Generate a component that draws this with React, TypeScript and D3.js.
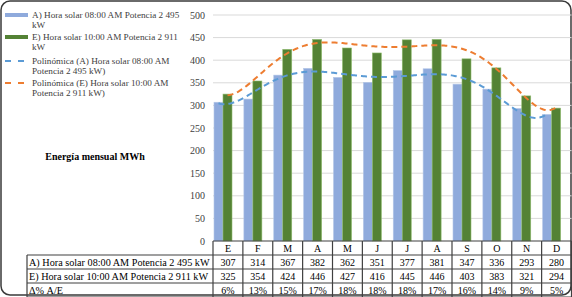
import React from 'react';
import * as d3 from 'd3';

const months = ['E', 'F', 'M', 'A', 'M', 'J', 'J', 'A', 'S', 'O', 'N', 'D'];
const seriesA = [307, 314, 367, 382, 362, 351, 377, 381, 347, 336, 293, 280];
const seriesE = [325, 354, 424, 446, 427, 416, 445, 446, 403, 383, 321, 294];
const deltas = ['6%', '13%', '15%', '17%', '18%', '18%', '18%', '17%', '16%', '14%', '9%', '5%'];
const yTicks = [0, 50, 100, 150, 200, 250, 300, 350, 400, 450, 500];
const labelA = 'A) Hora solar 08:00 AM Potencia 2 495 kW';
const labelE = 'E) Hora solar 10:00 AM Potencia 2 911 kW';
const labelDelta = 'Δ% A/E';
const axisTitle = 'Energía mensual MWh';

function polyfit(ys: number[], order: number) {
  const n = ys.length;
  const xs = ys.map((_, i) => (i + 1 - (n + 1) / 2) / ((n - 1) / 2));
  const m = order + 1;
  const A: number[][] = Array.from({ length: m }, () => new Array(m + 1).fill(0));
  for (let i = 0; i < n; i++) {
    for (let r = 0; r < m; r++) {
      for (let c = 0; c < m; c++) A[r][c] += Math.pow(xs[i], r + c);
      A[r][m] += Math.pow(xs[i], r) * ys[i];
    }
  }
  for (let col = 0; col < m; col++) {
    let piv = col;
    for (let r = col + 1; r < m; r++) if (Math.abs(A[r][col]) > Math.abs(A[piv][col])) piv = r;
    [A[col], A[piv]] = [A[piv], A[col]];
    for (let r = 0; r < m; r++) {
      if (r === col) continue;
      const f = A[r][col] / A[col][col];
      for (let c = col; c <= m; c++) A[r][c] -= f * A[col][c];
    }
  }
  const coef = A.map((row, i) => row[m] / row[i]);
  return (t: number) => {
    const x = (t - (n + 1) / 2) / ((n - 1) / 2);
    let s = 0;
    for (let k = 0; k < m; k++) s += coef[k] * Math.pow(x, k);
    return s;
  };
}

const W = 572, H = 297;
const plotL = 213, plotR = 571.5, plotT = 15, plotB = 241;
const rowH = 14;
const tableLeft = 27;
const font = "'Liberation Serif', 'Times New Roman', serif";
const ORDER = 6;

export default function App() {
  const x = d3.scaleBand<number>().domain(months.map((_, i) => i)).range([plotL, plotR]).padding(0);
  const y = d3.scaleLinear().domain([0, 500]).range([plotB, plotT]);
  const bw = x.bandwidth();
  const barW = 9;
  const offA = 1, offE = 10;

  const trend = (vals: number[], off: number, order: number) => {
    const f = polyfit(vals, order);
    const pts: [number, number][] = [];
    for (let t = 1; t <= 12.0001; t += 0.05) {
      pts.push([plotL + (t - 1) * bw + off + barW / 2, y(f(t))]);
    }
    return d3.line()(pts) || '';
  };

  const rowsY = [plotB, plotB + rowH, plotB + 2 * rowH, plotB + 3 * rowH, plotB + 4 * rowH];

  const legend = [
    { kind: 'bar', color: '#8FAADC', lines: ['A) Hora solar 08:00 AM Potencia 2 495', 'kW'] },
    { kind: 'bar', color: '#548235', lines: ['E) Hora solar 10:00 AM Potencia 2 911', 'kW'] },
    { kind: 'dash', color: '#5B9BD5', lines: ['Polinómica (A) Hora solar 08:00 AM', 'Potencia 2 495 kW)'] },
    { kind: 'dash', color: '#ED7D31', lines: ['Polinómica (E) Hora solar 10:00 AM', 'Potencia 2 911 kW)'] },
  ];
  const legendY = [15, 37, 61, 83];

  return (
    <svg width={W} height={H} style={{ position: 'absolute', left: 0, top: 0, background: '#fff', fontFamily: font }}>
      <rect x={1} y={1} width={W - 2} height={H - 3} rx={9} fill="#fff" stroke="#3a3a3a" strokeWidth={1.5} />
      {yTicks.map((t) => (
        <g key={t}>
          {t > 0 && <line x1={plotL} x2={plotR} y1={y(t)} y2={y(t)} stroke="#d9d9d9" strokeWidth={1} />}
          <text x={205} y={y(t) + 3.5} textAnchor="end" fontSize={10} fill="#404040">{t}</text>
        </g>
      ))}
      {months.map((_, i) => (
        <g key={i}>
          <rect x={(x(i) as number) + offA} y={y(seriesA[i])} width={barW} height={plotB - y(seriesA[i])} fill="#8FAADC" stroke="#b4c7e7" strokeWidth={0.6} />
          <rect x={(x(i) as number) + offE} y={y(seriesE[i])} width={barW} height={plotB - y(seriesE[i])} fill="#548235" stroke="#8fbc6f" strokeWidth={0.6} />
        </g>
      ))}
      <path d={trend(seriesA, offA, ORDER)} fill="none" stroke="#5B9BD5" strokeWidth={2} strokeDasharray="6,4" />
      <path d={trend(seriesE, offE, ORDER)} fill="none" stroke="#ED7D31" strokeWidth={2} strokeDasharray="6,4" />
      {legend.map((l, i) => (
        <g key={i}>
          {l.kind === 'bar' ? (
            <line x1={5} x2={28} y1={legendY[i]} y2={legendY[i]} stroke={l.color} strokeWidth={4} />
          ) : (
            <line x1={5} x2={28} y1={legendY[i]} y2={legendY[i]} stroke={l.color} strokeWidth={2} strokeDasharray="6,7" />
          )}
          {l.lines.map((s, j) => (
            <text key={j} x={32} y={legendY[i] + 3.3 + j * 10} fontSize={9.2} fill="#404040">{s}</text>
          ))}
        </g>
      ))}
      <text x={95} y={160} textAnchor="middle" fontSize={10} fontWeight="bold" fill="#000">{axisTitle}</text>
      <g stroke="#404040" strokeWidth={1.2} fill="none">
        <line x1={plotL} x2={plotR} y1={rowsY[0]} y2={rowsY[0]} />
        {[1, 2, 3, 4].map((k) => (
          <line key={k} x1={tableLeft} x2={plotR} y1={rowsY[k]} y2={rowsY[k]} />
        ))}
        <line x1={tableLeft} x2={tableLeft} y1={rowsY[1]} y2={rowsY[4]} />
        {months.map((_, i) => (
          <line key={i} x1={x(i)} x2={x(i)} y1={rowsY[0]} y2={rowsY[4]} />
        ))}
        <line x1={plotR} x2={plotR} y1={rowsY[0]} y2={rowsY[4]} />
      </g>
      {months.map((m, i) => (
        <g key={i} fontSize={10} fill="#000" textAnchor="middle">
          <text x={(x(i) as number) + bw / 2} y={rowsY[0] + 11}>{m}</text>
          <text x={(x(i) as number) + bw / 2} y={rowsY[1] + 11}>{seriesA[i]}</text>
          <text x={(x(i) as number) + bw / 2} y={rowsY[2] + 11}>{seriesE[i]}</text>
          <text x={(x(i) as number) + bw / 2} y={rowsY[3] + 11}>{deltas[i]}</text>
        </g>
      ))}
      <g fontSize={10.2} fill="#000">
        <text x={29} y={rowsY[1] + 11}>{labelA}</text>
        <text x={29} y={rowsY[2] + 11}>{labelE}</text>
        <text x={29} y={rowsY[3] + 11}>{labelDelta}</text>
      </g>
    </svg>
  );
}
